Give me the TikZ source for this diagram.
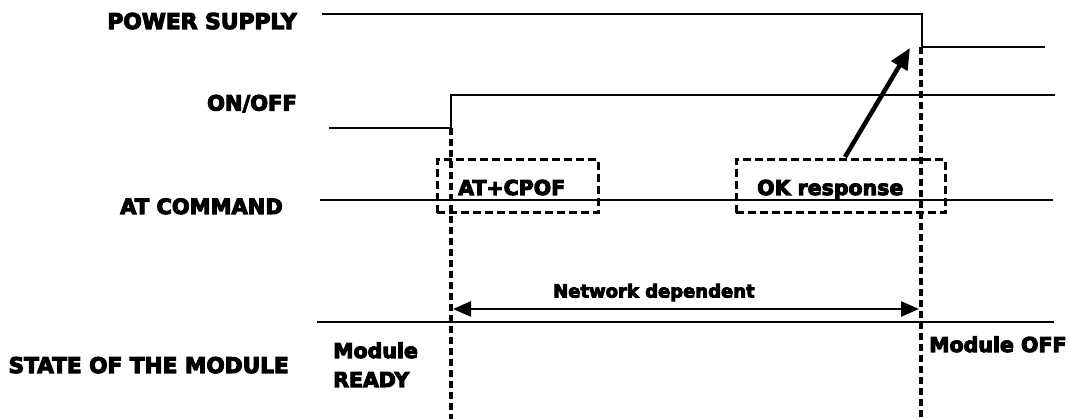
\documentclass[tikz,border=0pt]{standalone}
\usepackage{fontspec}
\usetikzlibrary{arrows.meta}
\newfontfamily\lblfont{DejaVu Sans Bold}[FakeBold=5]

\begin{document}
\begin{tikzpicture}[x=1pt,y=-1pt,
  signal/.style={line width=2.3pt},
  marker/.style={line width=3.2pt, dash pattern=on 7pt off 4pt},
  cmdbox/.style={draw, line width=3pt, dash pattern=on 8pt off 4pt, inner sep=0pt},
  rowlabel/.style={anchor=base east, inner sep=0pt, font=\lblfont\fontsize{21}{24}\selectfont},
  tag/.style={anchor=base west, inner sep=0pt, font=\lblfont\fontsize{20.5}{24}\selectfont},
  bigarrow/.style={line width=4.5pt, -{Triangle[length=21pt,width=18pt]}},
  span/.style={line width=2.6pt, {Triangle[length=18pt,width=15pt]}-{Triangle[length=18pt,width=15pt]}}
]
\useasboundingbox (0,0) rectangle (1069,419);

% row labels
\node[rowlabel, font=\lblfont\fontsize{21.8}{24}\selectfont] (lps) at (297,29) {POWER SUPPLY};
\node[rowlabel] (loo) at (297,110.5) {ON/OFF};
\node[rowlabel] (lat) at (283,214) {AT COMMAND};
\node[rowlabel, font=\lblfont\fontsize{21.6}{24}\selectfont] (lst) at (289,373) {STATE OF THE MODULE};

% power supply
\coordinate (ps0) at (322,14);
\coordinate (ps1) at (922,14);
\coordinate (ps2) at (922,47);
\coordinate (ps3) at (1045,47);
\draw[signal] (ps0) -- (ps1) -- (ps2) -- (ps3);

% ON/OFF
\coordinate (oo0) at (329,128);
\coordinate (oo1) at (451,128);
\coordinate (oo2) at (451,95);
\coordinate (oo3) at (1055,95);
\draw[signal] (oo0) -- (oo1) -- (oo2) -- (oo3);

% AT command line
\coordinate (at0) at (320,200);
\coordinate (at1) at (1053,200);
\draw[signal] (at0) -- (at1);

% state line
\coordinate (st0) at (317,322);
\coordinate (st1) at (1054,322);
\draw[signal] (st0) -- (st1);

% event markers
\coordinate (vl0) at (451,128);
\coordinate (vl1) at (451,419);
\coordinate (vr0) at (921,47);
\coordinate (vr1) at (921,419);
\draw[marker] (vl0) -- (vl1);
\draw[marker] (vr0) -- (vr1);

% command boxes
\node[cmdbox, minimum width=161pt, minimum height=53pt] (cpofbox) at (517.5,186.5) {};
\node[tag] (cpof) at (458,195) {AT+CPOF};
\node[cmdbox, minimum width=209pt, minimum height=53pt] (okbox) at (840.5,186.5) {};
\node[tag] (ok) at (757,195) {OK response};

% response switches the supply off
\coordinate (oktail) at (845,157);
\coordinate (pwrtip) at (910,48);
\draw[bigarrow] (oktail) -- (pwrtip);

% network dependent interval
\coordinate (nd0) at (453,309);
\coordinate (nd1) at (919,309);
\draw[span] (nd0) -- (nd1);
\node[tag, font=\lblfont\fontsize{18}{22}\selectfont] (ndl) at (553,297.5) {Network dependent};

% module states
\node[tag] (mr1) at (333,358) {Module};
\node[tag] (mr2) at (333,387) {READY};
\node[tag] (moff) at (929,352) {Module OFF};
\end{tikzpicture}
\end{document}
